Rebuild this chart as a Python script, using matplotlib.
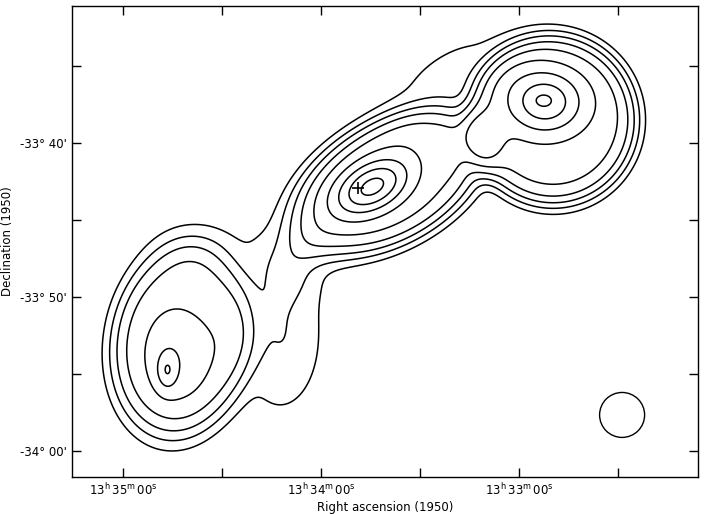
import numpy as np
import matplotlib
matplotlib.use('Agg')
import matplotlib.pyplot as plt
from matplotlib.patches import Ellipse

# RA in seconds of time after 13h, Dec in arcmin (negative = south)
# brightness model: elliptical components
# shape 2 = gaussian, >2 = flat-topped lobe with a sharp edge
comp_name  = ['SWlobe', 'SWmed', 'SWcore', 'SWtop', 'SWhalo', 'bridge',
              'bar', 'mid', 'link', 'NElobe', 'NE', 'NEcore', 'NWshelf']
comp_ra    = [2082.7, 2084.2, 2086.7, 2075.2, 2052.4, 2049.1,
              2019.7, 2024.5, 1999.4, 1969.7, 1972.1, 1972.7, 2000.9]
comp_dec   = [-2032.92, -2033.90, -2034.80, -2026.30, -2032.47, -2027.92,
              -2022.60, -2022.86, -2019.94, -2018.51, -2017.34, -2017.21, -2015.91]
comp_amp   = [4.5, 1.3, 1.45, 0.8, 2.0, 1.5,
              5.2, 4.1, 0.5, 5.4, 3.4, 0.5, 1.4]
comp_maj   = [4.04, 1.47, 0.44, 2.56, 2.05, 1.60,
              6.20, 1.79, 0.90, 5.00, 1.73, 0.45, 3.85]   # arcmin
comp_min   = [5.90, 2.24, 0.81, 1.41, 3.85, 1.41,
              3.65, 1.09, 1.41, 5.26, 1.47, 0.32, 1.90]   # arcmin
comp_pa    = [-8, 0, 0, 0, 0, 65,
              30, 29, 0, 0, 0, 0, 35]                     # deg, ccw from west
comp_shape = [6, 2, 2, 2, 2, 2,
              6, 2, 2, 8, 2, 2, 2]

levels = [1, 2, 3, 4, 5, 6, 7, 8, 9]

# beam and optical position
beam_ra, beam_dec = 1948.8, -2037.66
beam_w, beam_h = 13.64, 2.92          # RA s, Dec arcmin
cross_ra, cross_dec = 2028.8, -2022.92

xticks = [2100, 2070, 2040, 2010, 1980, 1950]
xlabels = {2100: r'$13^{\rm h}\,35^{\rm m}\,00^{\rm s}$',
           2040: r'$13^{\rm h}\,34^{\rm m}\,00^{\rm s}$',
           1980: r'$13^{\rm h}\,33^{\rm m}\,00^{\rm s}$'}
yticks = [-2040, -2035, -2030, -2025, -2020, -2015]
ylabels = {-2020: "-33° 40'", -2030: "-33° 50'", -2040: "-34° 00'"}

# ── brightness field ──
ra = np.linspace(1925, 2117, 520)
dec = np.linspace(-2042.5, -2010.5, 400)
RA, DEC = np.meshgrid(ra, dec)
cosd = np.cos(np.radians(33.75))
field = np.zeros_like(RA)
for r0, d0, a, smaj, smin, pa, p in zip(comp_ra, comp_dec, comp_amp, comp_maj,
                                        comp_min, comp_pa, comp_shape):
    xr = -(RA - r0) * 15 * cosd / 60      # arcmin, to the right (west)
    yu = DEC - d0
    t = np.radians(pa)
    xp = xr * np.cos(t) + yu * np.sin(t)
    yp = -xr * np.sin(t) + yu * np.cos(t)
    rho2 = (xp / smaj) ** 2 + (yp / smin) ** 2
    field += a * np.exp(-0.5 * rho2 ** (p / 2))

fig = plt.figure(figsize=(7.06, 5.14), dpi=100)
ax = fig.add_axes([0.102, 0.072, 0.8867, 0.9163])
ax.contour(RA, DEC, field, levels=levels, colors='black', linewidths=1.1)

ax.add_patch(Ellipse((beam_ra, beam_dec), beam_w, beam_h, fill=False,
                     edgecolor='black', linewidth=1.0))
ax.plot(cross_ra, cross_dec, marker='+', color='black', markersize=8, mew=1.2)

ax.set_xlim(2115.45, 1925.8)
ax.set_ylim(-2041.69, -2011.1)
ax.set_xticks(xticks)
ax.set_xticklabels([xlabels.get(t, '') for t in xticks])
ax.set_yticks(yticks)
ax.set_yticklabels([ylabels.get(t, '') for t in yticks])
ax.tick_params(direction='in', length=6.5, width=1.0, top=True, right=True,
               labelsize=8.5, pad=4)
for s in ax.spines.values():
    s.set_linewidth(1.0)

ax.set_xlabel('Right ascension (1950)', fontsize=8.5, labelpad=2)
ax.set_ylabel('Declination (1950)', fontsize=8.5, labelpad=4)

fig.savefig('out.png', dpi=100)
